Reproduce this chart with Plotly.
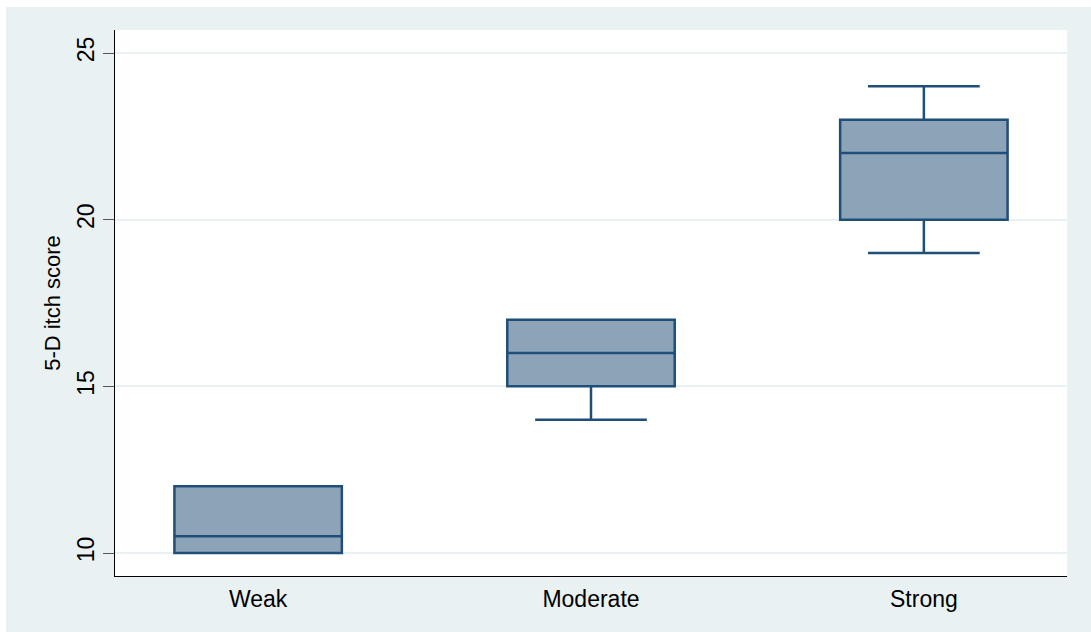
import plotly.graph_objects as go

# Itch intensity groups and their five-number summaries
groups = ["Weak", "Moderate", "Strong"]
lower_fence = [10, 14, 19]
q1 = [10, 15, 20]
median = [10.5, 16, 22]
q3 = [12, 17, 23]
upper_fence = [12, 17, 24]

y_ticks = [10, 15, 20, 25]

BG = "#E9F1F2"
LINE = "#1F4E79"
FILL = "#8DA4B8"

fig = go.Figure()
fig.add_trace(go.Box(
    x=groups,
    q1=q1,
    median=median,
    q3=q3,
    lowerfence=lower_fence,
    upperfence=upper_fence,
    width=0.503,
    whiskerwidth=0.667,
    fillcolor=FILL,
    line=dict(color=LINE, width=2.5),
    boxpoints=False,
    hoverinfo="y",
    showlegend=False,
))

# thin white strips around the outer panel
fig.add_shape(type="rect", xref="paper", yref="paper",
              x0=-0.2, x1=1.05, y0=1.0421, y1=1.1,
              fillcolor="white", line_width=0, layer="below")
fig.add_shape(type="rect", xref="paper", yref="paper",
              x0=-0.2, x1=-0.1145, y0=-0.2, y1=1.1,
              fillcolor="white", line_width=0, layer="below")

font_family = "Liberation Sans, Arial, sans-serif"

fig.update_layout(
    width=1091, height=632,
    margin=dict(l=115, r=24, t=30, b=56),
    paper_bgcolor=BG,
    plot_bgcolor="white",
    font=dict(family=font_family, color="black"),
    xaxis=dict(
        type="category",
        range=[-0.43, 2.43],
        showgrid=False,
        showline=True, linecolor="black", linewidth=1,
        ticks="",
        tickfont=dict(size=23),
        ticklabelstandoff=2,
        zeroline=False,
    ),
    yaxis=dict(
        range=[9.31, 25.69],
        tickvals=y_ticks,
        ticktext=[str(v) for v in y_ticks],
        tickangle=-90,
        tickfont=dict(size=23),
        ticks="outside", ticklen=11, tickcolor="#555555", tickwidth=1,
        showgrid=True, gridcolor=BG, gridwidth=1.5,
        showline=True, linecolor="black", linewidth=1,
        zeroline=False,
        title=dict(text="5-D itch score", font=dict(size=22), standoff=6),
    ),
)

fig.write_html("out.html")
